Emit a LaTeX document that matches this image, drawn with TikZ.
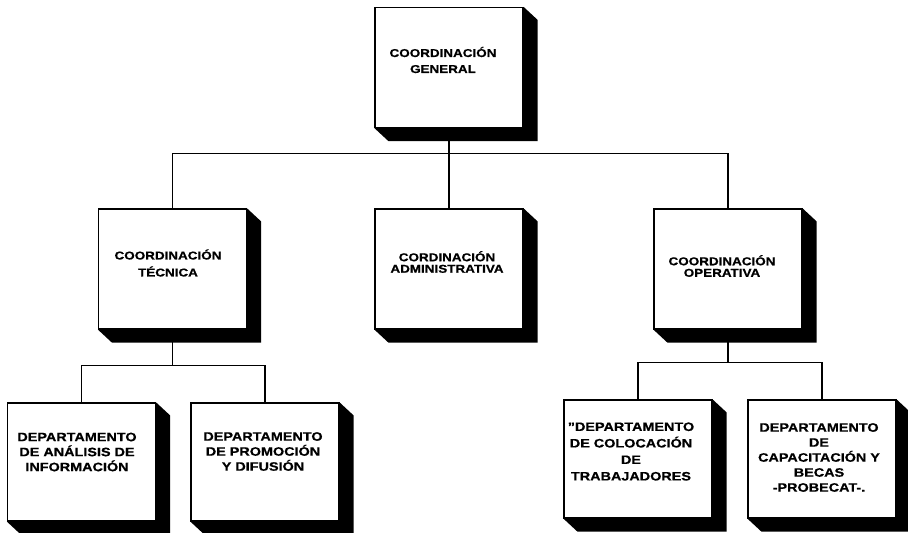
\documentclass[tikz,border=0pt]{standalone}
\usepackage{fontspec}
\setmainfont{Liberation Sans}[FakeStretch=1.18,BoldFeatures={FakeBold=0.6}]
\usetikzlibrary{backgrounds,calc}
\newcommand\boxshade[1]{%
  \fill[black] (#1.north east) -- ++(14,13) -- ($(#1.south east)+(14,13)$) --
    ($(#1.south west)+(14,13)$) -- (#1.south west) -- (#1.south east) -- cycle;}
\begin{document}
\begin{tikzpicture}[x=1pt,y=-1pt,
  face/.style={draw=black, line width=1.2pt, fill=white, rectangle,
    minimum width=148pt, minimum height=#1, inner sep=0pt},
  face/.default=120pt,
  lbl/.style={align=center, inner sep=0pt,
    font=\bfseries\fontsize{11.4}{#1}\selectfont},
  lbl/.default=15pt,
  lblb/.style={align=center, inner sep=0pt,
    font=\bfseries\fontsize{12.2}{#1}\selectfont},
  lblb/.default=15pt,
  conn/.style={line width=1.3pt}]
\useasboundingbox (0,0) rectangle (908,533);
% boxes
\node[face] (G) at (449,67.5) {};
\node[face] (T) at (172.5,269) {};
\node[face] (A) at (449,269) {};
\node[face] (O) at (728,269) {};
\node[face=118pt] (D1) at (81.5,462) {};
\node[face=118pt] (D2) at (265,462) {};
\node[face=118pt] (D3) at (638,459) {};
\node[face=118pt] (D4) at (822,459) {};
\foreach \n in {G,T,A,O,D1,D2,D3,D4} {\boxshade{\n}}
% labels
\node[lbl=16pt] (tG) at (443,60) {COORDINACIÓN\\GENERAL};
\node[lbl=17pt] (tT) at (168,263) {COORDINACIÓN\\TÉCNICA};
\node[lbl=11.5pt] (tA) at (447,262) {CORDINACIÓN\\ADMINISTRATIVA};
\node[lbl=11.5pt] (tO) at (722,266) {COORDINACIÓN\\OPERATIVA};
\node[lblb] (tD1) at (77,452) {DEPARTAMENTO\\DE ANÁLISIS DE\\INFORMACIÓN};
\node[lblb] (tD2) at (263,451.5) {DEPARTAMENTO\\DE PROMOCIÓN\\Y DIFUSIÓN};
\node[lblb=16.5pt] (tD3) at (631,451.5) {"DEPARTAMENTO\\DE COLOCACIÓN\\DE\\TRABAJADORES};
\node[lblb] (tD4) at (819,457.5) {DEPARTAMENTO\\DE\\CAPACITACIÓN Y\\BECAS\\-PROBECAT-.};
% connectors
\begin{scope}[on background layer]
\draw[conn] (G.south) -- ++(0,25.5) coordinate (busTop);
\draw[conn] (busTop) -| (T.north);
\draw[conn] (busTop) -| (O.north);
\draw[conn] (G.south) -- (A.north);
\draw[conn] (T.south) -- ++(0,36) coordinate (busL);
\draw[conn] (busL) -| (D1.north);
\draw[conn] (busL) -| (D2.north);
\draw[conn] (O.south) -- ++(0,33) coordinate (busR);
\draw[conn] (busR) -| (D3.north);
\draw[conn] (busR) -| (D4.north);
\end{scope}
\end{tikzpicture}
\end{document}
